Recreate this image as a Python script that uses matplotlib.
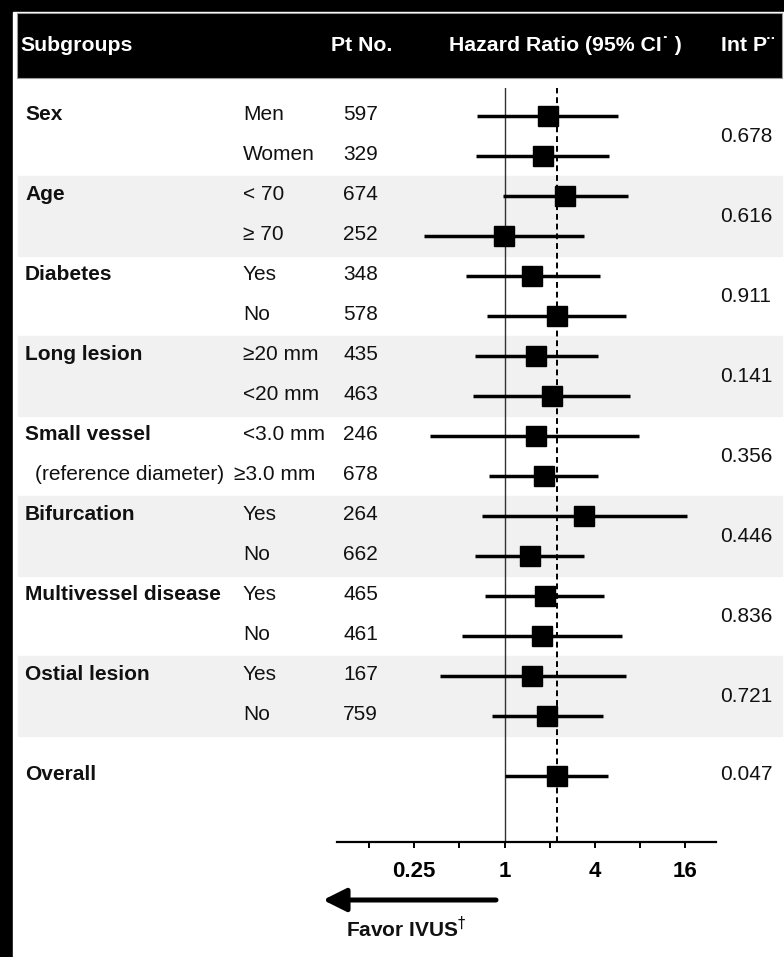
"""Forest plot: subgroup hazard ratios, scanned-figure look."""
import matplotlib
matplotlib.use("Agg")
import matplotlib.pyplot as plt
from matplotlib.patches import Rectangle
from matplotlib.ticker import FixedLocator, FixedFormatter, NullLocator
from matplotlib.transforms import blended_transform_factory

# ── Data ──────────────────────────────────────────────────────────────────────
groups = ["Sex", "Age", "Diabetes", "Long lesion", "Small vessel",
          "Bifurcation", "Multivessel disease", "Ostial lesion"]
sublabels = ["Men", "Women", "< 70", "≥ 70", "Yes", "No", "≥20 mm", "<20 mm",
             "<3.0 mm", "≥3.0 mm", "Yes", "No", "Yes", "No", "Yes", "No"]
pt_no = [597, 329, 674, 252, 348, 578, 435, 463,
         246, 678, 264, 662, 465, 461, 167, 759]
hr = [1.94, 1.82, 2.53, 0.99, 1.53, 2.23, 1.62, 2.07,
      1.62, 1.84, 3.41, 1.48, 1.86, 1.77, 1.53, 1.93]
ci_lo = [0.66, 0.65, 0.98, 0.29, 0.55, 0.77, 0.64, 0.62,
         0.32, 0.79, 0.71, 0.64, 0.74, 0.52, 0.37, 0.83]
ci_hi = [5.70, 5.01, 6.64, 3.41, 4.34, 6.44, 4.19, 6.88,
         7.94, 4.23, 16.6, 3.41, 4.64, 6.06, 6.47, 4.52]
p_int = ["0.678", "0.616", "0.911", "0.141", "0.356", "0.446", "0.836", "0.721"]
overall_hr, overall_lo, overall_hi, overall_p = 2.23, 1.01, 4.88, "0.047"
xticks = [0.125, 0.25, 0.5, 1, 2, 4, 8, 16]
xtick_labels = ["", "0.25", "", "1", "", "4", "", "16"]

# ── Layout (pixels) ───────────────────────────────────────────────────────────
W, H = 784, 957
ROW0_PX, ROW_PX = 116, 40          # first row centre, row pitch
AX_L, AX_R = 337.3, 716.0          # x-axis line extent
AX_TOP, AX_BOT = 88.0, 842.3       # reference lines top / axis line
HR1_PX, PX_PER_DOUBLING = 504.5, 45.1
FONT = ["Liberation Sans", "DejaVu Sans"]
SHADE = "#f1f1f1"

plt.rcParams["font.family"] = FONT


def fxp(px):
    return px / W


def fyp(py):
    return 1 - py / H


fig = plt.figure(figsize=(W / 100, H / 100), dpi=100, facecolor="black")

# white page on the black scan frame, black header band
fig.add_artist(Rectangle((fxp(13), 0), 1 - fxp(13), fyp(12),
                         transform=fig.transFigure, color="white", zorder=0))
fig.add_artist(Rectangle((fxp(17), fyp(78)), fxp(782 - 17), (78 - 13) / H,
                         transform=fig.transFigure, facecolor="black",
                         edgecolor="#9a9a9a", linewidth=0.8, zorder=1))

# forest axes
fx = fig.add_axes([fxp(AX_L), fyp(AX_BOT), fxp(AX_R - AX_L), (AX_BOT - AX_TOP) / H])
fx.patch.set_visible(False)
fx.set_xscale("log", base=2)
fx.set_xlim(2 ** ((AX_L - HR1_PX) / PX_PER_DOUBLING),
            2 ** ((AX_R - HR1_PX) / PX_PER_DOUBLING))
fx.set_ylim((AX_BOT - ROW0_PX) / ROW_PX, (AX_TOP - ROW0_PX) / ROW_PX)
for s in ["top", "right", "left"]:
    fx.spines[s].set_visible(False)
fx.spines["bottom"].set_linewidth(1.6)
fx.yaxis.set_major_locator(NullLocator())
fx.xaxis.set_major_locator(FixedLocator(xticks))
fx.xaxis.set_major_formatter(FixedFormatter(xtick_labels))
fx.xaxis.set_minor_locator(NullLocator())
fx.tick_params(axis="x", direction="out", length=4.5, width=1.4, pad=9,
               labelsize=16)
for lab in fx.get_xticklabels():
    lab.set_fontweight("bold")

rows = list(range(len(sublabels)))
overall_row = len(sublabels) + 0.5
T = blended_transform_factory(fig.transFigure, fx.transData)

# shaded group bands (every other group)
for g in range(1, len(groups), 2):
    fx.add_patch(Rectangle((fxp(18), 2 * g - 0.5), fxp(782 - 18), 2,
                           transform=T, color=SHADE, zorder=0, clip_on=False))

# reference lines
fx.axvline(1, color="#333333", linewidth=1.0, zorder=1)
fx.axvline(overall_hr, color="black", linewidth=1.4, linestyle=(0, (3, 2)),
           zorder=1)

# estimates
fx.hlines(rows + [overall_row], ci_lo + [overall_lo], ci_hi + [overall_hi],
          color="black", linewidth=2.5, zorder=3)
fx.plot(hr + [overall_hr], rows + [overall_row], "s", color="black",
        markersize=14.4, zorder=4)

# ── Table text ────────────────────────────────────────────────────────────────
TXT = dict(transform=T, fontsize=15, va="baseline", color="#111111")
BL = 0.09  # baseline offset in rows
for g, name in enumerate(groups):
    fx.text(fxp(25), 2 * g + BL, name, fontweight="bold", **TXT)
    fx.text(fxp(720), 2 * g + 0.5 + 0.14, p_int[g], **TXT)
fx.text(fxp(35), 9 + BL, "(reference diameter)", **TXT)
for r, (lab, n) in enumerate(zip(sublabels, pt_no)):
    x0 = 234 if r == 9 else 243
    fx.text(fxp(x0), r + BL, lab, **TXT)
    fx.text(fxp(343), r + BL, str(n), **TXT)
fx.text(fxp(25), overall_row + BL, "Overall", fontweight="bold", **TXT)
fx.text(fxp(720), overall_row + 0.1, overall_p, **TXT)

# header (footnote marks look like dots in the scan)
HDR = dict(fontsize=15.3, fontweight="bold", color="white", va="baseline")
fig.text(fxp(20), fyp(51), "Subgroups", **HDR)
fig.text(fxp(331), fyp(51), "Pt No.", **HDR)
fig.text(fxp(449), fyp(51), "Hazard Ratio (95% CI\u02d9 )", **HDR)
fig.text(fxp(721), fyp(51), "Int P\u00a8", **HDR)

# favour arrow
TA = blended_transform_factory(fx.transData, fig.transFigure)
fx.annotate("", xy=(2 ** ((323 - HR1_PX) / PX_PER_DOUBLING), fyp(900)),
            xytext=(2 ** ((496 - HR1_PX) / PX_PER_DOUBLING), fyp(900)),
            xycoords=TA, textcoords=TA, annotation_clip=False,
            arrowprops=dict(arrowstyle="-|>,head_length=0.7,head_width=0.35",
                            color="black", lw=3.6, shrinkA=0, shrinkB=0,
                            mutation_scale=20))
fig.text(fxp(346), fyp(937), r"Favor IVUS$^{\dagger}$", fontsize=15,
         fontweight="bold", color="#111111", va="baseline")

fig.savefig("out.png", dpi=100, facecolor="black")
